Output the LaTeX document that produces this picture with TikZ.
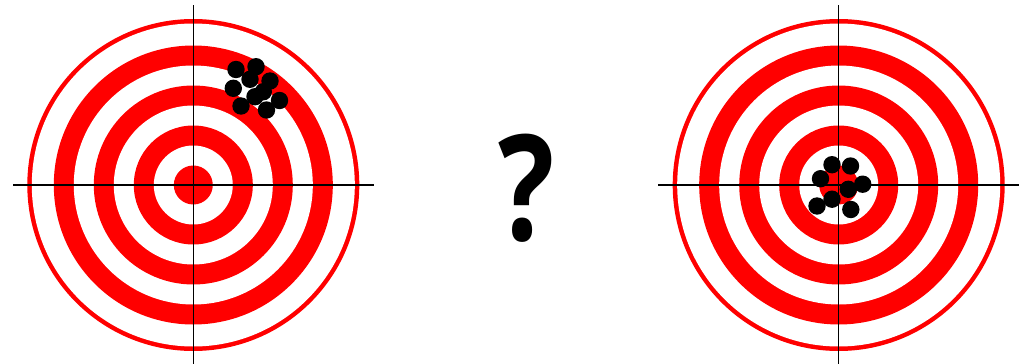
\documentclass[tikz,border=0pt]{standalone}
\usepackage{fontspec}
\newfontfamily\qfont{Open Sans}
\begin{document}
\begin{tikzpicture}[x=1pt,y=-1pt,
  hair/.style={black,line width=1.5pt},
  shot/.style={fill=black}]
\useasboundingbox[fill=white] (0,0) rectangle (1028,364);
\newcommand\targetrings[2]{%
  \fill[red] (#1,#2) circle (166);
  \fill[white] (#1,#2) circle (161.5);
  \fill[red] (#1,#2) circle (139.5);
  \fill[white] (#1,#2) circle (119.5);
  \fill[red] (#1,#2) circle (99.5);
  \fill[white] (#1,#2) circle (79.5);
  \fill[red] (#1,#2) circle (59.5);
  \fill[white] (#1,#2) circle (39.5);
  \fill[red] (#1,#2) circle (19.5);
}
% left target
\targetrings{193.3}{185}
\draw[hair] (13,185) -- (374,185);
\draw[hair] (193.3,5) -- (193.3,364);
\foreach \px/\py in {236/69.5, 256/66.7, 250/79.3, 233.3/88.3, 270/81, 255/96.7, 263.3/91.7, 241/106, 266.5/110, 279.5/100.5}
  \fill[shot] (\px,\py) circle (8.7);
% right target
\targetrings{838.7}{185}
\draw[hair] (658,185) -- (1019,185);
\draw[hair] (838.7,5) -- (838.7,364);
\foreach \px/\py in {832/164.7, 850.5/166, 820.5/178.7, 862.7/184.2, 848.3/189.3, 832/199.2, 817/206, 850.8/209.5}
  \fill[shot] (\px,\py) circle (8.7);
% question mark
\node[inner sep=0pt,xscale=0.8] (q) at (527,188) {\qfont\bfseries\fontsize{147}{147}\selectfont ?};
\end{tikzpicture}
\end{document}
